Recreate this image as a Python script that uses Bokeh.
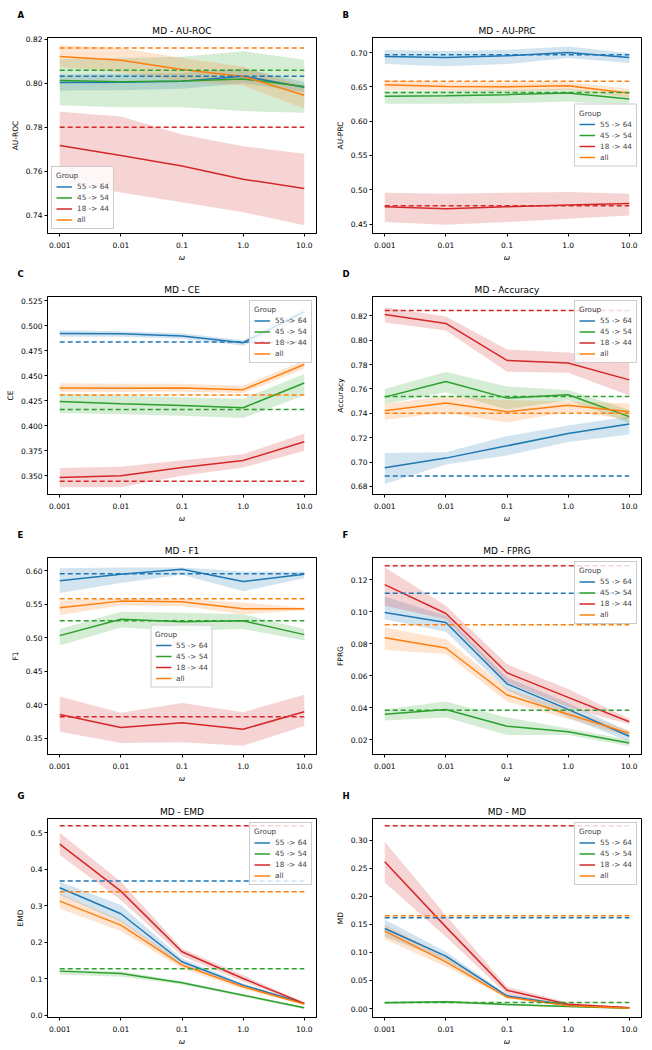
import numpy as np
from bokeh.plotting import figure
from bokeh.layouts import gridplot
from bokeh.models import (Range1d, FixedTicker, PrintfTickFormatter, Title,
                          Legend, LegendItem)
from bokeh.embed import file_html
from bokeh.resources import INLINE

# ---------------- data ----------------
omega = [0.001, 0.01, 0.1, 1.0, 10.0]
omega_labels = ["0.001", "0.01", "0.1", "1.0", "10.0"]
groups = ["55 -> 64", "45 -> 54", "18 -> 44", "all"]
colors = ["#1f77b4", "#2ca02c", "#d62728", "#ff7f0e"]

# A: AU-ROC
auroc_mean = [[0.8003, 0.8004, 0.8009, 0.8032, 0.7982],
              [0.8012, 0.8007, 0.8010, 0.8019, 0.7985],
              [0.7716, 0.7671, 0.7623, 0.7563, 0.7521],
              [0.8122, 0.8104, 0.8062, 0.8031, 0.7945]]
auroc_lo = [[0.7967, 0.7968, 0.7975, 0.8000, 0.7960],
            [0.7900, 0.7890, 0.7890, 0.7873, 0.7866],
            [0.7548, 0.7503, 0.7458, 0.7413, 0.7354],
            [0.8073, 0.8050, 0.8010, 0.7990, 0.7885]]
auroc_hi = [[0.8040, 0.8042, 0.8045, 0.8068, 0.8005],
            [0.8110, 0.8115, 0.8120, 0.8145, 0.8107],
            [0.7870, 0.7848, 0.7766, 0.7713, 0.7679],
            [0.8173, 0.8160, 0.8115, 0.8075, 0.7987]]
auroc_base = [0.8032, 0.8059, 0.7799, 0.8160]
auroc_ticks = [0.74, 0.76, 0.78, 0.80, 0.82]

# B: AU-PRC
auprc_mean = [[0.6943, 0.6929, 0.6952, 0.7000, 0.6929],
              [0.6362, 0.6371, 0.6386, 0.6410, 0.6324],
              [0.4752, 0.4724, 0.4752, 0.4776, 0.4800],
              [0.6529, 0.6505, 0.6500, 0.6514, 0.6405]]
auprc_lo = [[0.6833, 0.6800, 0.6833, 0.6919, 0.6848],
            [0.6252, 0.6252, 0.6262, 0.6286, 0.6229],
            [0.4529, 0.4490, 0.4529, 0.4576, 0.4624],
            [0.6452, 0.6443, 0.6438, 0.6457, 0.6348]]
auprc_hi = [[0.7038, 0.7024, 0.7038, 0.7086, 0.6990],
            [0.6433, 0.6443, 0.6452, 0.6476, 0.6381],
            [0.4957, 0.4943, 0.4957, 0.4967, 0.4943],
            [0.6595, 0.6571, 0.6562, 0.6571, 0.6467]]
auprc_base = [0.6967, 0.6419, 0.4767, 0.6581]
auprc_ticks = [0.45, 0.50, 0.55, 0.60, 0.65, 0.70]

# C: CE
ce_mean = [[0.4923, 0.4920, 0.4897, 0.4831, 0.5140],
           [0.4243, 0.4220, 0.4203, 0.4180, 0.4428],
           [0.3483, 0.3500, 0.3582, 0.3652, 0.3840],
           [0.4378, 0.4375, 0.4378, 0.4361, 0.4612]]
ce_lo = [[0.4890, 0.4890, 0.4870, 0.4800, 0.5090],
         [0.4128, 0.4115, 0.4100, 0.4078, 0.4302],
         [0.3384, 0.3384, 0.3500, 0.3582, 0.3748],
         [0.4340, 0.4338, 0.4340, 0.4325, 0.4570]]
ce_hi = [[0.4955, 0.4945, 0.4925, 0.4855, 0.5180],
         [0.4319, 0.4300, 0.4285, 0.4270, 0.4517],
         [0.3576, 0.3590, 0.3655, 0.3714, 0.3923],
         [0.4425, 0.4420, 0.4420, 0.4400, 0.4655]]
ce_base = [0.4837, 0.4162, 0.3444, 0.4307]
ce_ticks = [0.350, 0.375, 0.400, 0.425, 0.450, 0.475, 0.500, 0.525]

# D: Accuracy
acc_mean = [[0.6952, 0.7032, 0.7133, 0.7235, 0.7312],
            [0.7533, 0.7661, 0.7525, 0.7552, 0.7373],
            [0.8213, 0.8139, 0.7835, 0.7813, 0.7675],
            [0.7421, 0.7485, 0.7413, 0.7467, 0.7413]]
acc_lo = [[0.6819, 0.6979, 0.7053, 0.7165, 0.7227],
          [0.7475, 0.7573, 0.7432, 0.7507, 0.7320],
          [0.8147, 0.8080, 0.7741, 0.7733, 0.7547],
          [0.7347, 0.7405, 0.7325, 0.7413, 0.7352]]
acc_hi = [[0.7075, 0.7080, 0.7213, 0.7301, 0.7373],
          [0.7600, 0.7739, 0.7621, 0.7592, 0.7427],
          [0.8272, 0.8195, 0.7925, 0.7899, 0.7813],
          [0.7475, 0.7545, 0.7507, 0.7500, 0.7480]]
acc_base = [0.6885, 0.7539, 0.8245, 0.7400]
acc_ticks = [0.68, 0.70, 0.72, 0.74, 0.76, 0.78, 0.80, 0.82]

# E: F1
f1_mean = [[0.5853, 0.5951, 0.6025, 0.5843, 0.5951],
           [0.5034, 0.5279, 0.5240, 0.5255, 0.5049],
           [0.3858, 0.3662, 0.3735, 0.3637, 0.3897],
           [0.5451, 0.5549, 0.5539, 0.5436, 0.5436]]
f1_lo = [[0.5672, 0.5819, 0.5941, 0.5696, 0.5892],
         [0.4887, 0.5157, 0.5108, 0.5132, 0.4961],
         [0.3598, 0.3431, 0.3441, 0.3392, 0.3686],
         [0.5343, 0.5485, 0.5475, 0.5353, 0.5412]]
f1_hi = [[0.6039, 0.6049, 0.6050, 0.5990, 0.5990],
         [0.5132, 0.5392, 0.5377, 0.5353, 0.5132],
         [0.4127, 0.3882, 0.4029, 0.3892, 0.4152],
         [0.5559, 0.5588, 0.5588, 0.5525, 0.5451]]
f1_base = [0.5956, 0.5255, 0.3824, 0.5583]
f1_ticks = [0.35, 0.40, 0.45, 0.50, 0.55, 0.60]

# F: FPRG
fprg_mean = [[0.0996, 0.0934, 0.0550, 0.0390, 0.0222],
             [0.0360, 0.0390, 0.0285, 0.0250, 0.0180],
             [0.1170, 0.0990, 0.0619, 0.0465, 0.0313],
             [0.0838, 0.0774, 0.0480, 0.0360, 0.0240]]
fprg_lo = [[0.0954, 0.0875, 0.0510, 0.0340, 0.0190],
           [0.0320, 0.0340, 0.0230, 0.0230, 0.0160],
           [0.1038, 0.0954, 0.0559, 0.0403, 0.0297],
           [0.0762, 0.0737, 0.0440, 0.0330, 0.0220]]
fprg_hi = [[0.1096, 0.0975, 0.0590, 0.0430, 0.0250],
           [0.0390, 0.0440, 0.0340, 0.0270, 0.0200],
           [0.1279, 0.1038, 0.0672, 0.0518, 0.0332],
           [0.0903, 0.0828, 0.0520, 0.0390, 0.0260]]
fprg_base = [0.1117, 0.0385, 0.1289, 0.0920]
fprg_ticks = [0.02, 0.04, 0.06, 0.08, 0.10, 0.12]

# G: EMD
emd_mean = [[0.3492, 0.2779, 0.1463, 0.0823, 0.0320],
            [0.1207, 0.1143, 0.0887, 0.0548, 0.0201],
            [0.4690, 0.3400, 0.1737, 0.1005, 0.0320],
            [0.3126, 0.2468, 0.1371, 0.0777, 0.0302]]
emd_lo = [[0.3290, 0.2560, 0.1371, 0.0777, 0.0292],
          [0.1115, 0.1051, 0.0841, 0.0503, 0.0165],
          [0.4388, 0.3154, 0.1618, 0.0914, 0.0292],
          [0.2925, 0.2303, 0.1280, 0.0713, 0.0275]]
emd_hi = [[0.3656, 0.3016, 0.1554, 0.0868, 0.0338],
          [0.1252, 0.1207, 0.0932, 0.0576, 0.0229],
          [0.5000, 0.3656, 0.1828, 0.1097, 0.0347],
          [0.3336, 0.2605, 0.1444, 0.0823, 0.0330]]
emd_base = [0.3675, 0.1270, 0.5192, 0.3382]
emd_ticks = [0.0, 0.1, 0.2, 0.3, 0.4, 0.5]

# H: MD
md_mean = [[0.1426, 0.0933, 0.0226, 0.0059, 0.0012],
           [0.0101, 0.0119, 0.0071, 0.0036, 0.0006],
           [0.2614, 0.1455, 0.0327, 0.0077, 0.0012],
           [0.1378, 0.0832, 0.0202, 0.0048, 0.0006]]
md_lo = [[0.1277, 0.0861, 0.0202, 0.0048, 0.0006],
         [0.0083, 0.0095, 0.0053, 0.0024, 0.0003],
         [0.2246, 0.1277, 0.0250, 0.0042, 0.0006],
         [0.1236, 0.0743, 0.0178, 0.0036, 0.0003]]
md_hi = [[0.1586, 0.1010, 0.0250, 0.0077, 0.0018],
         [0.0119, 0.0137, 0.0089, 0.0048, 0.0012],
         [0.2970, 0.1663, 0.0386, 0.0107, 0.0018],
         [0.1497, 0.0921, 0.0226, 0.0065, 0.0012]]
md_base = [0.1616, 0.0107, 0.3256, 0.1652]
md_ticks = [0.00, 0.05, 0.10, 0.15, 0.20, 0.25, 0.30]

# ---------------- layout / style ----------------
FONT = "DejaVu Sans"
ROW_H = [264, 261, 260, 263]
ROW_TOP = [37, 31, 32, 33]
ROW_BOT = [27, 30, 28, 30]
COL_W = [326, 325]
COL_LEFT = [47, 46]
FRAME_W = 269

xpos = list(np.log10(omega))


def make_panel(letter, metric, ylabel, mean, lo, hi, base, yrange, yticks,
               fmt, legend_loc, row, col):
    left = COL_LEFT[col]
    p = figure(width=COL_W[col], height=ROW_H[row],
               x_range=Range1d(xpos[0] - 0.2, xpos[-1] + 0.2),
               y_range=Range1d(*yrange),
               output_backend="svg", toolbar_location=None, title=None,
               min_border_left=left,
               min_border_right=COL_W[col] - left - FRAME_W,
               min_border_top=ROW_TOP[row], min_border_bottom=ROW_BOT[row])
    p.xgrid.visible = False
    p.ygrid.visible = False
    p.outline_line_color = "black"
    p.outline_line_alpha = 1.0
    p.background_fill_color = "white"

    lines = []
    for i, g in enumerate(groups):
        p.varea(x=xpos, y1=lo[i], y2=hi[i], fill_color=colors[i],
                fill_alpha=0.2)
    for i, g in enumerate(groups):
        r = p.line(x=xpos, y=mean[i], line_color=colors[i], line_width=1.5)
        lines.append(r)
    for i, g in enumerate(groups):
        p.line(x=[xpos[0], xpos[-1]], y=[base[i], base[i]],
               line_color=colors[i], line_width=1.5, line_dash="5 3")

    p.xaxis.ticker = FixedTicker(ticks=xpos)
    p.xaxis.major_label_overrides = {float(x): l for x, l in zip(xpos, omega_labels)}
    p.yaxis.ticker = FixedTicker(ticks=yticks)
    p.yaxis.formatter = PrintfTickFormatter(format=fmt)
    p.xaxis.axis_label = "ω"
    p.xaxis.axis_label_text_font_style = "italic"
    p.yaxis.axis_label = ylabel
    p.yaxis.axis_label_text_font_style = "normal"
    for ax in (p.xaxis[0], p.yaxis[0]):
        ax.major_label_text_font = FONT
        ax.major_label_text_font_size = "7.5px"
        ax.major_label_text_color = "black"
        ax.axis_label_text_font = FONT
        ax.axis_label_text_font_size = "7.5px"
        ax.axis_label_text_color = "black"
        ax.minor_tick_line_color = None
        ax.major_tick_out = 3
        ax.major_tick_in = 0
        ax.major_tick_line_color = "black"
        ax.axis_line_color = "black"
    p.xaxis.major_label_standoff = 5
    p.xaxis.axis_label_standoff = 2
    p.yaxis.major_label_standoff = 2
    p.yaxis.axis_label_standoff = 3

    p.add_layout(Title(text=f"MD - {metric}", align="center",
                       text_font=FONT, text_font_size="9px",
                       text_font_style="normal", text_color="black",
                       standoff=4), "above")
    p.add_layout(Title(text=letter, align="left", offset=-30,
                       text_font=FONT, text_font_size="8.5px",
                       text_font_style="bold", text_color="black",
                       standoff=4), "above")

    items = [LegendItem(label=g, renderers=[lines[i]])
             for i, g in enumerate(groups)]
    leg = Legend(items=items, location=legend_loc, title="Group",
                 title_text_font=FONT, title_text_font_size="7.3px",
                 title_text_font_style="normal", title_standoff=2,
                 label_text_font=FONT, label_text_font_size="7.3px",
                 glyph_width=16, glyph_height=9, label_height=9,
                 label_standoff=5, spacing=2, padding=4, margin=4,
                 border_line_color="#cccccc", border_line_alpha=1.0,
                 background_fill_color="white", background_fill_alpha=0.8)
    p.add_layout(leg)
    return p


pA = make_panel("A", "AU-ROC", "AU-ROC", auroc_mean, auroc_lo, auroc_hi,
                auroc_base, (0.7316, 0.8208), auroc_ticks, "%.2f",
                "bottom_left", 0, 0)
pB = make_panel("B", "AU-PRC", "AU-PRC", auprc_mean, auprc_lo, auprc_hi,
                auprc_base, (0.4362, 0.7219), auprc_ticks, "%.2f",
                "center_right", 0, 1)
pC = make_panel("C", "CE", "CE", ce_mean, ce_lo, ce_hi, ce_base,
                (0.3312, 0.5293), ce_ticks, "%.3f", "top_right", 1, 0)
pD = make_panel("D", "Accuracy", "Accuracy", acc_mean, acc_lo, acc_hi,
                acc_base, (0.6733, 0.8360), acc_ticks, "%.2f", "top_right",
                1, 1)
pE = make_panel("E", "F1", "F1", f1_mean, f1_lo, f1_hi, f1_base,
                (0.326, 0.620), f1_ticks, "%.2f", "center", 2, 0)
pF = make_panel("F", "FPRG", "FPRG", fprg_mean, fprg_lo, fprg_hi, fprg_base,
                (0.0108, 0.134), fprg_ticks, "%.2f", "top_right", 2, 1)
pG = make_panel("G", "EMD", "EMD", emd_mean, emd_lo, emd_hi, emd_base,
                (-0.0064, 0.539), emd_ticks, "%.1f", "top_right", 3, 0)
pH = make_panel("H", "MD", "MD", md_mean, md_lo, md_hi, md_base,
                (-0.016, 0.3386), md_ticks, "%.2f", "top_right", 3, 1)

grid = gridplot([[pA, pB], [pC, pD], [pE, pF], [pG, pH]],
                toolbar_location=None)

open("out.html", "w").write(file_html(grid, INLINE))
